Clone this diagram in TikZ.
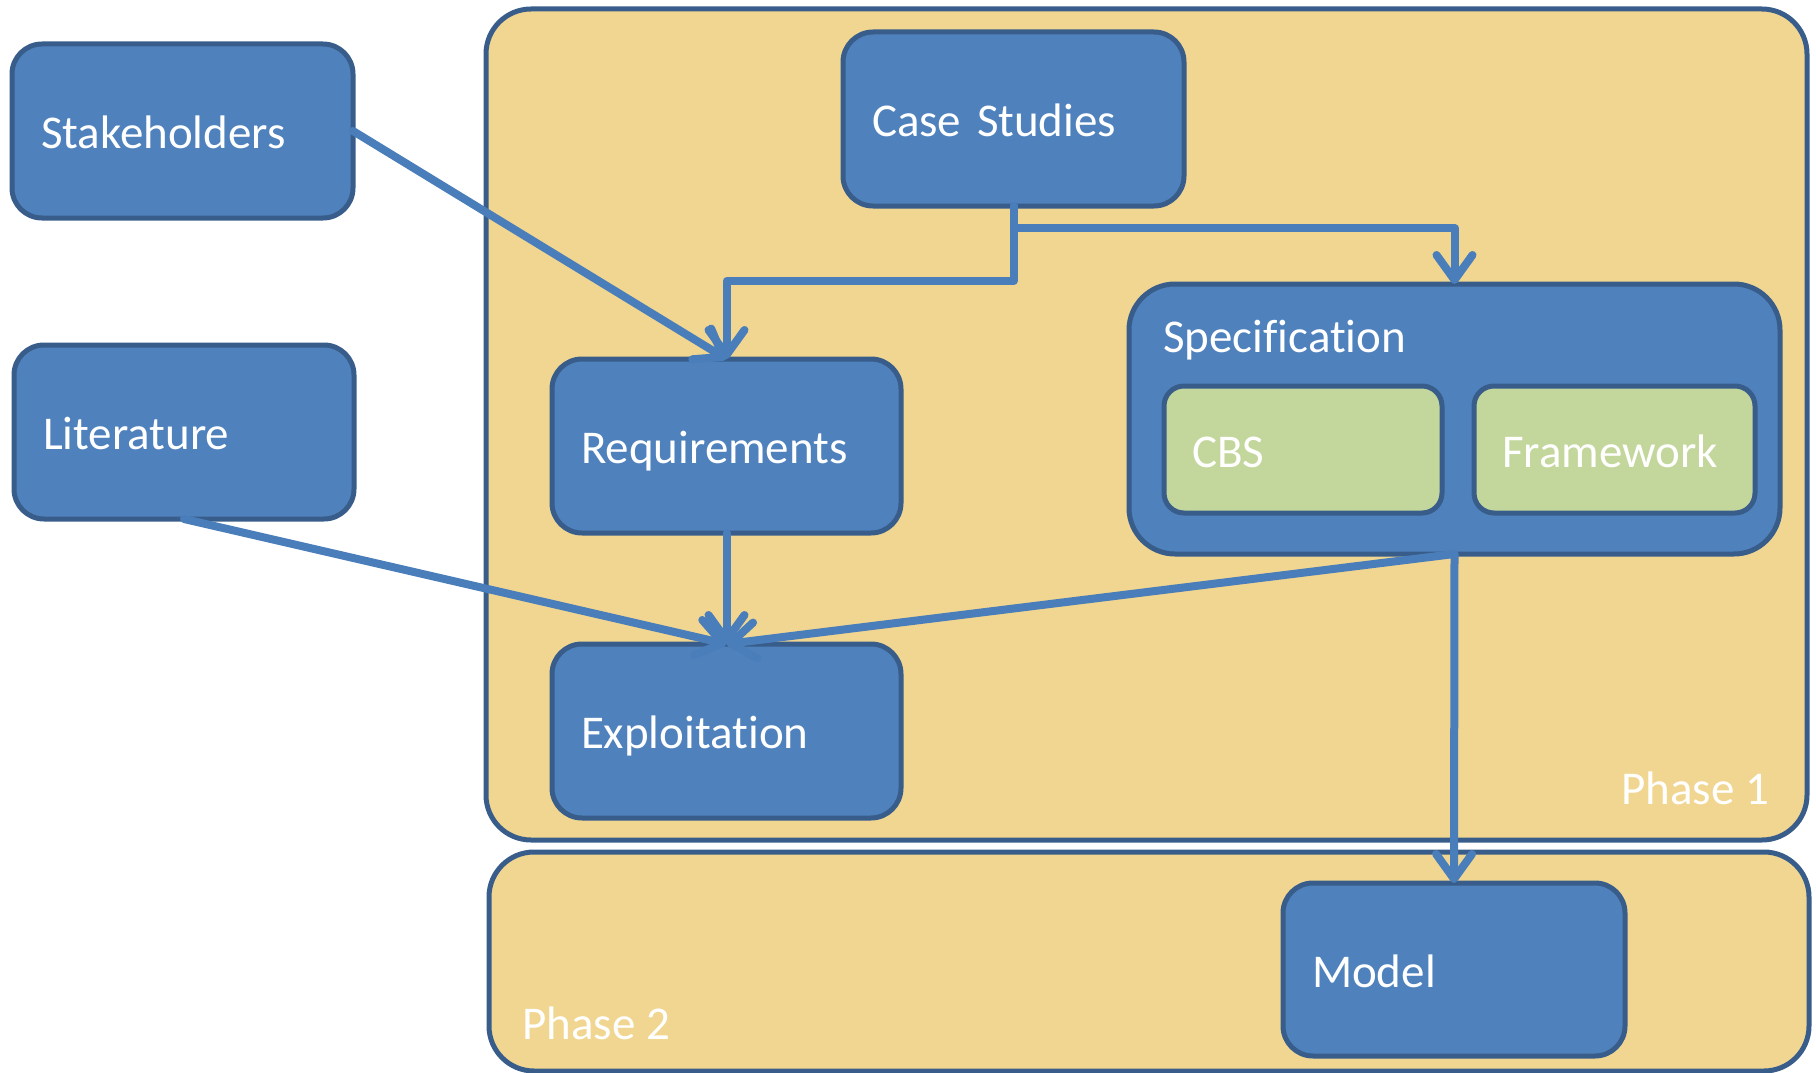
\documentclass[tikz,border=0pt]{standalone}
\usepackage{fontspec}
\setmainfont{Carlito}[Ligatures={NoCommon,NoContextual}]
\usetikzlibrary{arrows.meta}
\definecolor{bfill}{HTML}{4F81BD}
\definecolor{bdark}{HTML}{385D8A}
\definecolor{arrowc}{HTML}{4A7EBB}
\definecolor{phasefill}{RGB}{241,214,145}
\definecolor{gfill}{HTML}{C3D69B}
\tikzset{
  phasebox/.style={draw=bdark, line width=5pt, fill=phasefill, rounded corners=45pt, inner sep=0pt, outer sep=0pt},
  bluebox/.style={draw=bdark, line width=5pt, fill=bfill, rounded corners=30pt, text=white,
    align=left, inner xsep=29pt, inner ysep=0pt, outer sep=0pt, text height=39pt, text depth=4pt},
  greenbox/.style={bluebox, fill=gfill, rounded corners=20pt, inner xsep=28pt},
  lbl/.style={text=white, anchor=west, inner sep=0pt, text height=33pt, text depth=4pt},
  conn/.style={draw=arrowc, line width=8pt, line cap=round, line join=round,
    -{Straight Barb[length=25pt,width=36pt,round]}}
}
\begin{document}
\begin{tikzpicture}[x=1pt,y=-1pt, font=\fontsize{47}{56}\selectfont]
\useasboundingbox (0,0) rectangle (1816,1073);
% phases
\node[phasebox, minimum width=1321pt, minimum height=831pt] (ph1) at (1146.5,424.5) {};
\node[phasebox, minimum width=1320pt, minimum height=219pt] (ph2) at (1149,961.5) {};
\node[lbl] (ph1lbl) at (1621,789.5) {Phase 1};
\node[lbl] (ph2lbl) at (522,1024.5) {Phase 2};
% outer boxes
\node[bluebox, minimum height=174pt, text width=283pt] (stake) at (182.5,131) {Stakeholders};
\node[bluebox, minimum height=174pt, text width=282pt] (lit) at (184,432) {Literature};
% phase 1 boxes
\node[bluebox, minimum height=174pt, text width=283pt] (case) at (1013.5,119) {Case Studies};
\node[bluebox, minimum height=174pt, text width=291pt] (req) at (726.5,446) {Requirements};
\node[bluebox, minimum height=174pt, text width=291pt] (exp) at (726.5,731) {Exploitation};
\node[bluebox, rounded corners=46pt, minimum width=651pt, minimum height=270pt] (spec) at (1454.5,419) {};
\node[lbl] (speclbl) at (1163,338) {Specification};
\node[greenbox, minimum height=127pt, text width=222pt] (cbs) at (1303,449.5) {CBS};
\node[greenbox, minimum height=127pt, text width=225pt] (fw) at (1614.5,449.5) {Framework};
% phase 2
\node[bluebox, minimum height=173pt, text width=284pt] (model) at (1454,969.5) {Model};
% connectors
\draw[conn] (stake.east) -- (req.north);
\draw[conn] (case.south) -- ++(0,75) -| (req.north);
\draw[conn] (case.south) -- ++(0,22) -| (spec.north);
\draw[conn] (req.south) -- (exp.north);
\draw[conn] (lit.south) -- (exp.north);
\draw[conn] (spec.south) -- (exp.north);
\draw[conn] (spec.south) -- (model.north);
\end{tikzpicture}
\end{document}
